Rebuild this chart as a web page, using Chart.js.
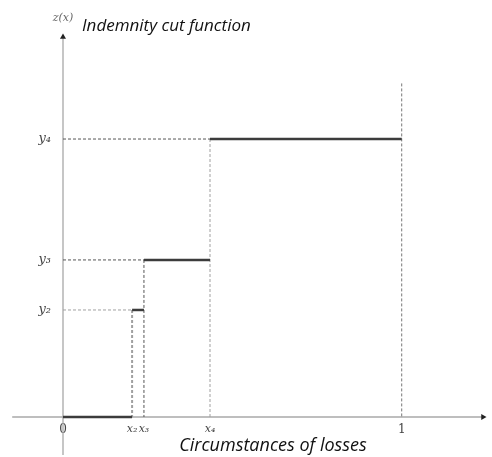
<!DOCTYPE html>
<html>
<head>
<meta charset="utf-8">
<script src="https://cdn.jsdelivr.net/npm/chart.js@4"></script>
<style>
  html, body { margin: 0; padding: 0; background: #fff; }
  #wrap { width: 492px; height: 457px; }
</style>
</head>
<body>
<div id="wrap"><canvas id="cutChart"></canvas></div>
<script>
// tick positions and labels
const xTicks = [0, 0.204, 0.239, 0.434, 1];
const xTickLabels = ["0", "x₂", "x₃", "x₄", "1"];
const yTicks = [0.385, 0.565, 1];
const yTickLabels = ["y₂", "y₃", "y₄"];

// step function pieces
const stepStart = [0, 0.204, 0.239, 0.434];
const stepEnd = [0.204, 0.239, 0.434, 1];
const stepLevel = [0, 0.385, 0.565, 1];

// top of the dashed line at x = 1, and axis extents
const oneLineTop = 1.2;
const xAxisFrom = -0.15, xAxisTo = 1.24;
const yAxisFrom = -0.137, yAxisTo = 1.367;

const datasets = [];

// axes (drawn first, behind everything)
datasets.push({
  data: [{x: xAxisFrom, y: 0}, {x: xAxisTo, y: 0}],
  borderColor: "#a8a8a8", borderWidth: 1.3, pointRadius: 0, order: 10
});
datasets.push({
  data: [{x: 0, y: yAxisFrom}, {x: 0, y: yAxisTo}],
  borderColor: "#a8a8a8", borderWidth: 1.3, pointRadius: 0, order: 10
});
// arrow heads
datasets.push({
  data: [{x: xAxisTo, y: 0}], showLine: false,
  pointStyle: "triangle", pointRadius: 3.5, pointRotation: 90,
  backgroundColor: "#222", borderColor: "#222", borderWidth: 0, order: 0
});
datasets.push({
  data: [{x: 0, y: yAxisTo}], showLine: false,
  pointStyle: "triangle", pointRadius: 3.5, pointRotation: 0,
  backgroundColor: "#222", borderColor: "#222", borderWidth: 0, order: 0
});

// dashed guides
for (let i = 1; i < stepStart.length; i++) {
  datasets.push({
    data: [{x: 0, y: stepLevel[i]}, {x: stepStart[i], y: stepLevel[i]}],
    borderColor: (i === 1) ? "#a0a0a0" : "#555", borderWidth: 1, borderDash: [3, 2],
    pointRadius: 0, order: 5
  });
  datasets.push({
    data: [{x: stepStart[i], y: stepLevel[i]}, {x: stepStart[i], y: 0}],
    borderColor: (i === 2) ? "#555" : "#a0a0a0", borderWidth: (i === 1) ? 2 : 1, borderDash: [3, 2],
    pointRadius: 0, order: 5
  });
}
datasets.push({
  data: [{x: 1, y: oneLineTop}, {x: 1, y: 0}],
  borderColor: "#777", borderWidth: 1, borderDash: [3, 2], pointRadius: 0, order: 5
});

// step segments
for (let i = 0; i < stepStart.length; i++) {
  datasets.push({
    data: [{x: stepStart[i], y: stepLevel[i]}, {x: stepEnd[i], y: stepLevel[i]}],
    borderColor: "#3c3c3c", borderWidth: 2.5, pointRadius: 0, order: 1
  });
}

datasets.forEach(d => { d.showLine = d.showLine !== false; d.clip = false; });

const textPlugin = {
  id: "texts",
  afterDraw(chart) {
    const ctx = chart.ctx;
    const a = chart.chartArea;
    ctx.save();
    ctx.fillStyle = "#666";
    ctx.font = "italic 11px 'DejaVu Serif'";
    ctx.textAlign = "center";
    ctx.textBaseline = "middle";
    ctx.fillText("z(x)", a.left, a.top - 19);
    ctx.fillStyle = "#111";
    ctx.font = "italic 17px 'Open Sans'";
    ctx.textAlign = "left";
    ctx.fillText("Indemnity cut function", a.left + 19, a.top - 11);
    ctx.restore();
  }
};

const config = {
  type: "scatter",
  data: { datasets: datasets },
  options: {
    responsive: true,
    maintainAspectRatio: false,
    animation: false,
    layout: { padding: { top: 37, right: 9, left: 0, bottom: 0 } },
    plugins: { legend: { display: false }, tooltip: { enabled: false } },
    scales: {
      x: {
        type: "linear", min: 0, max: xAxisTo,
        grid: { display: false, drawTicks: false, tickLength: 0 }, border: { display: false },
        afterBuildTicks: s => { s.ticks = xTicks.map(v => ({ value: v })); },
        afterFit: s => { s.height = 40; },
        ticks: {
          autoSkip: false, maxRotation: 0, padding: 6,
          color: "#444",
          font: c => {
            const upright = c.index === 0 || c.index === xTicks.length - 1;
            return { family: "'DejaVu Serif'", style: upright ? "normal" : "italic", size: upright ? 12 : 11 };
          },
          callback: (v, i) => xTickLabels[i]
        },
        title: {
          display: true, text: "Circumstances of losses",
          color: "#111", font: { family: "'Open Sans'", style: "italic", size: 18 },
          padding: { top: 0, bottom: 0 }
        }
      },
      y: {
        type: "linear", min: 0, max: yAxisTo,
        grid: { display: false, drawTicks: false, tickLength: 0 }, border: { display: false },
        afterBuildTicks: s => { s.ticks = yTicks.map(v => ({ value: v })); },
        afterFit: s => { s.width = 63; },
        ticks: {
          autoSkip: false, padding: 12,
          color: "#444", font: { family: "'DejaVu Serif'", style: "italic", size: 13 },
          callback: (v, i) => yTickLabels[i]
        }
      }
    }
  },
  plugins: [textPlugin]
};

const cutChart = new Chart(document.getElementById("cutChart"), config);
</script>
</body>
</html>
